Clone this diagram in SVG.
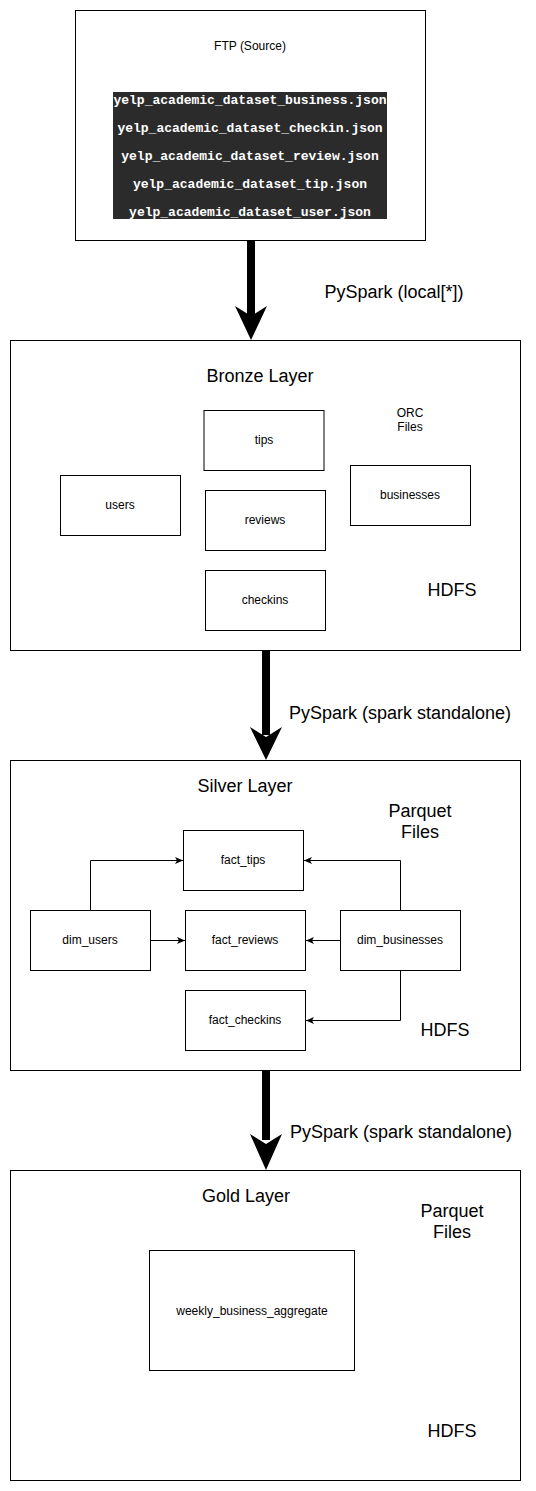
<svg xmlns="http://www.w3.org/2000/svg" width="536" height="1491" viewBox="0 0 536 1491">
<style>
.box{fill:#fff;stroke:#000;stroke-width:1}
.t{font-family:"Liberation Sans",Arial,sans-serif;fill:#000;text-anchor:middle;dominant-baseline:central}
.s12{font-size:12px}
.s18{font-size:18px}
.mono{font-family:"Liberation Mono","Courier New",monospace;font-size:13px;font-weight:bold;fill:#fff;text-anchor:middle;dominant-baseline:central}
.conn{fill:none;stroke:#000;stroke-width:1}
.big{fill:#000;stroke:none}
</style>
<defs>
<marker id="arr" markerWidth="8" markerHeight="7" refX="8" refY="3.5" orient="auto" markerUnits="userSpaceOnUse">
<path d="M0,0 L8,3.5 L0,7 L2,3.5 Z" fill="#000"/>
</marker>
</defs>
<rect width="536" height="1491" fill="#fff"/>

<g id="ftp">
<rect class="box" x="75.5" y="10.5" width="350" height="230"/>
<text class="t s12" x="250" y="46">FTP (Source)</text>
<rect x="113" y="92" width="274" height="127" fill="#2b2b2b"/>
<text class="mono" x="250" y="100">yelp_academic_dataset_business.json</text>
<text class="mono" x="250" y="128">yelp_academic_dataset_checkin.json</text>
<text class="mono" x="250" y="156">yelp_academic_dataset_review.json</text>
<text class="mono" x="250" y="184">yelp_academic_dataset_tip.json</text>
<text class="mono" x="250" y="212">yelp_academic_dataset_user.json</text>
</g>

<g id="bronze">
<rect class="box" x="10.5" y="340.5" width="510" height="310"/>
<text class="t s18" x="260" y="376">Bronze Layer</text>
<text class="t s12" x="410" y="413">ORC</text>
<text class="t s12" x="410" y="427">Files</text>
<text class="t s18" x="452" y="590">HDFS</text>
</g>
<g id="b_tips"><rect class="box" x="204" y="410.5" width="120" height="60"/><text class="t s12" x="264" y="440">tips</text></g>
<g id="b_users"><rect class="box" x="60.5" y="475.5" width="120" height="60"/><text class="t s12" x="120" y="505">users</text></g>
<g id="b_reviews"><rect class="box" x="205.5" y="490.5" width="120" height="60"/><text class="t s12" x="265" y="520">reviews</text></g>
<g id="b_checkins"><rect class="box" x="205.5" y="570.5" width="120" height="60"/><text class="t s12" x="265" y="600">checkins</text></g>
<g id="b_businesses"><rect class="box" x="350.5" y="465.5" width="120" height="60"/><text class="t s12" x="410" y="495">businesses</text></g>

<g id="silver">
<rect class="box" x="10.5" y="760.5" width="510" height="310"/>
<text class="t s18" x="245" y="786">Silver Layer</text>
<text class="t s18" x="420" y="811">Parquet</text>
<text class="t s18" x="420" y="832">Files</text>
<text class="t s18" x="445" y="1030">HDFS</text>
</g>
<g id="s_fact_tips"><rect class="box" x="183.5" y="830.5" width="120" height="60"/><text class="t s12" x="243" y="860">fact_tips</text></g>
<g id="s_dim_users"><rect class="box" x="30.5" y="910.5" width="120" height="60"/><text class="t s12" x="90" y="940">dim_users</text></g>
<g id="s_fact_reviews"><rect class="box" x="185.5" y="910.5" width="120" height="60"/><text class="t s12" x="245" y="940">fact_reviews</text></g>
<g id="s_dim_businesses"><rect class="box" x="340.5" y="910.5" width="120" height="60"/><text class="t s12" x="400" y="940">dim_businesses</text></g>
<g id="s_fact_checkins"><rect class="box" x="185.5" y="990.5" width="120" height="60"/><text class="t s12" x="245" y="1020">fact_checkins</text></g>

<g id="gold">
<rect class="box" x="10.5" y="1170.5" width="510" height="310"/>
<text class="t s18" x="246" y="1196">Gold Layer</text>
<text class="t s18" x="452" y="1211">Parquet</text>
<text class="t s18" x="452" y="1232">Files</text>
<text class="t s18" x="452" y="1431">HDFS</text>
</g>
<g id="g_weekly"><rect class="box" x="149.5" y="1250.5" width="205" height="120"/><text class="t s12" x="252" y="1311">weekly_business_aggregate</text></g>

<g id="connectors">
<rect class="big" x="247" y="240" width="8" height="80"/>
<path class="big" d="M251,340 L235,306 L251,316 L267,306 Z"/>
<text class="t s18" x="394" y="292">PySpark (local[*])</text>

<rect class="big" x="262" y="650" width="8" height="85"/>
<path class="big" d="M266,760 L250,727 L266,737 L282,727 Z"/>
<text class="t s18" x="400" y="713">PySpark (spark standalone)</text>

<rect class="big" x="262" y="1070" width="8" height="70"/>
<path class="big" d="M266,1170 L250,1134 L266,1144 L282,1134 Z"/>
<text class="t s18" x="401" y="1132">PySpark (spark standalone)</text>

<path class="conn" d="M90.5,910 V860.5 H183" marker-end="url(#arr)"/>
<path class="conn" d="M150,940.5 H185" marker-end="url(#arr)"/>
<path class="conn" d="M400.5,910 V860.5 H304" marker-end="url(#arr)"/>
<path class="conn" d="M340,940.5 H306" marker-end="url(#arr)"/>
<path class="conn" d="M400.5,970 V1020.5 H306" marker-end="url(#arr)"/>
</g>
</svg>
